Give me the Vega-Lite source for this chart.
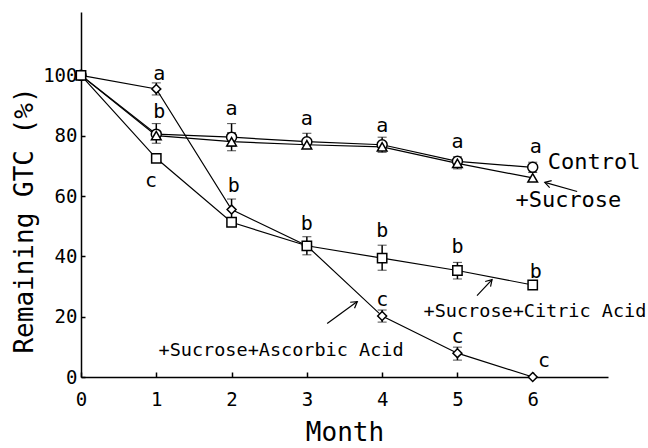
{
  "$schema": "https://vega.github.io/schema/vega-lite/v6.json",
  "width": 527,
  "height": 365,
  "autosize": {"type": "none"},
  "padding": {"left": 81, "top": 12, "right": 40, "bottom": 71},
  "background": "white",
  "config": {
    "view": {"stroke": null},
    "font": "DejaVu Sans Mono",
    "axis": {"labelFont": "DejaVu Sans Mono", "titleFont": "DejaVu Sans Mono", "labelColor": "black", "titleColor": "black", "domainColor": "black", "tickColor": "black", "domainWidth": 1.5, "tickWidth": 1.5, "grid": false, "labelFontSize": 19, "titleFontSize": 26, "titleFontWeight": "normal", "labelFlush": false}
  },
  "datasets": {
    "pts": [
      {"series": "Control", "month": 0, "value": 100},
      {"series": "Control", "month": 1, "value": 80.5, "lo": 77.5, "hi": 84},
      {"series": "Control", "month": 2, "value": 79.5, "lo": 76.5, "hi": 84},
      {"series": "Control", "month": 3, "value": 78, "lo": 76, "hi": 80.8},
      {"series": "Control", "month": 4, "value": 77, "lo": 74.5, "hi": 79.5},
      {"series": "Control", "month": 5, "value": 71.5, "lo": 69, "hi": 73},
      {"series": "Control", "month": 6, "value": 69.5, "lo": 67.8, "hi": 71.2},
      {"series": "+Sucrose", "month": 0, "value": 100},
      {"series": "+Sucrose", "month": 1, "value": 80},
      {"series": "+Sucrose", "month": 2, "value": 78, "lo": 75, "hi": 81},
      {"series": "+Sucrose", "month": 3, "value": 77},
      {"series": "+Sucrose", "month": 4, "value": 76.3},
      {"series": "+Sucrose", "month": 5, "value": 70.8},
      {"series": "+Sucrose", "month": 6, "value": 66},
      {"series": "+Sucrose+Ascorbic Acid", "month": 0, "value": 100},
      {"series": "+Sucrose+Ascorbic Acid", "month": 1, "value": 95.5, "lo": 93.5, "hi": 97.5},
      {"series": "+Sucrose+Ascorbic Acid", "month": 2, "value": 55.5, "lo": 52, "hi": 59},
      {"series": "+Sucrose+Ascorbic Acid", "month": 3, "value": 43.5},
      {"series": "+Sucrose+Ascorbic Acid", "month": 4, "value": 20.2, "lo": 18.2, "hi": 22.2},
      {"series": "+Sucrose+Ascorbic Acid", "month": 5, "value": 7.9, "lo": 5.6, "hi": 9.9},
      {"series": "+Sucrose+Ascorbic Acid", "month": 6, "value": 0},
      {"series": "+Sucrose+Citric Acid", "month": 0, "value": 100},
      {"series": "+Sucrose+Citric Acid", "month": 1, "value": 72.5},
      {"series": "+Sucrose+Citric Acid", "month": 2, "value": 51.3},
      {"series": "+Sucrose+Citric Acid", "month": 3, "value": 43.5, "lo": 40.5, "hi": 46.5},
      {"series": "+Sucrose+Citric Acid", "month": 4, "value": 39.4, "lo": 35.4, "hi": 43.7},
      {"series": "+Sucrose+Citric Acid", "month": 5, "value": 35.3, "lo": 32.5, "hi": 38},
      {"series": "+Sucrose+Citric Acid", "month": 6, "value": 30.5}
    ],
    "letters": [
      {"month": 1.04, "value": 98.3, "letter": "a"},
      {"month": 1.04, "value": 85.8, "letter": "b"},
      {"month": 0.93, "value": 62.9, "letter": "c"},
      {"month": 2.0, "value": 86.8, "letter": "a"},
      {"month": 2.03, "value": 61.3, "letter": "b"},
      {"month": 3.0, "value": 83.4, "letter": "a"},
      {"month": 3.0, "value": 48.7, "letter": "b"},
      {"month": 4.0, "value": 81.1, "letter": "a"},
      {"month": 4.0, "value": 46.4, "letter": "b"},
      {"month": 4.0, "value": 23.5, "letter": "c"},
      {"month": 5.0, "value": 75.8, "letter": "a"},
      {"month": 5.0, "value": 41.1, "letter": "b"},
      {"month": 5.0, "value": 11.3, "letter": "c"},
      {"month": 6.04, "value": 74.2, "letter": "a"},
      {"month": 6.04, "value": 32.8, "letter": "b"},
      {"month": 6.15, "value": 3.3, "letter": "c"}
    ],
    "labels": [
      {"month": 6.2, "value": 68.8, "text": "Control", "big": true},
      {"month": 5.77, "value": 56.5, "text": "+Sucrose", "big": true},
      {"month": 4.55, "value": 20.0, "text": "+Sucrose+Citric Acid", "big": false},
      {"month": 1.03, "value": 6.8, "text": "+Sucrose+Ascorbic Acid", "big": false}
    ],
    "arrows": [
      {"arrow": "sucrose", "month": 6.59, "value": 61.5, "month2": 6.16, "value2": 64.5},
      {"arrow": "citric", "month": 5.26, "value": 27.0, "month2": 5.46, "value2": 32.3},
      {"arrow": "ascorbic", "month": 3.27, "value": 17.7, "month2": 3.67, "value2": 25.0}
    ]
  },
  "encoding": {
    "x": {"field": "month", "type": "quantitative", "scale": {"domain": [0, 7], "nice": false, "zero": false},
      "axis": {"title": "Month", "values": [0, 1, 2, 3, 4, 5, 6], "tickSize": -5, "labelPadding": 18, "titlePadding": 10}},
    "y": {"field": "value", "type": "quantitative", "scale": {"domain": [0, 121], "nice": false},
      "axis": {"title": "Remaining GTC (%)", "values": [0, 20, 40, 60, 80, 100], "tickSize": -4, "labelPadding": 8, "titlePadding": 5, "titleY": 208}}
  },
  "layer": [
    {"data": {"name": "pts"}, "mark": {"type": "line", "color": "black", "strokeWidth": 1.2},
      "encoding": {"detail": {"field": "series"}}},
    {"data": {"name": "pts"}, "transform": [{"filter": "isValid(datum.lo)"}],
      "mark": {"type": "errorbar", "color": "black", "ticks": {"size": 9, "strokeWidth": 1.5}, "rule": {"strokeWidth": 1.5}},
      "encoding": {"y": {"field": "lo", "type": "quantitative"}, "y2": {"field": "hi"}}},
    {"data": {"name": "pts"}, "mark": {"type": "point", "filled": false, "fill": "white", "fillOpacity": 1, "stroke": "black", "strokeWidth": 1.5, "opacity": 1},
      "encoding": {
        "shape": {"field": "series", "type": "nominal", "legend": null,
          "scale": {"domain": ["Control", "+Sucrose", "+Sucrose+Citric Acid", "+Sucrose+Ascorbic Acid"], "range": ["circle", "triangle-up", "square", "diamond"]}},
        "size": {"field": "series", "type": "nominal", "legend": null,
          "scale": {"domain": ["Control", "+Sucrose", "+Sucrose+Citric Acid", "+Sucrose+Ascorbic Acid"], "range": [100, 80, 100, 110]}}
      }},
    {"data": {"name": "letters"}, "mark": {"type": "text", "fontSize": 20, "baseline": "alphabetic", "align": "center", "color": "black"},
      "encoding": {"text": {"field": "letter"}}},
    {"data": {"name": "labels"}, "transform": [{"filter": "datum.big"}], "mark": {"type": "text", "fontSize": 22, "baseline": "alphabetic", "align": "left", "color": "black"},
      "encoding": {"text": {"field": "text"}}},
    {"data": {"name": "labels"}, "transform": [{"filter": "!datum.big"}], "mark": {"type": "text", "fontSize": 18.5, "baseline": "alphabetic", "align": "left", "color": "black"},
      "encoding": {"text": {"field": "text"}}},
    {"data": {"name": "arrows"}, "mark": {"type": "rule", "color": "black", "strokeWidth": 1.2},
      "encoding": {"x2": {"field": "month2"}, "y2": {"field": "value2"}}},
    {"data": {"name": "arrows"}, "transform": [{"filter": "datum.arrow == 'sucrose'"}],
      "mark": {"type": "point", "shape": "M -1 -0.6 L 0 0 L -1 0.6", "filled": false, "stroke": "black", "strokeWidth": 1.2, "size": 150, "angle": 195.7, "opacity": 1},
      "encoding": {"x": {"field": "month2", "type": "quantitative"}, "y": {"field": "value2", "type": "quantitative"}}},
    {"data": {"name": "arrows"}, "transform": [{"filter": "datum.arrow == 'citric'"}],
      "mark": {"type": "point", "shape": "M -1 -0.6 L 0 0 L -1 0.6", "filled": false, "stroke": "black", "strokeWidth": 1.2, "size": 150, "angle": 313.2, "opacity": 1},
      "encoding": {"x": {"field": "month2", "type": "quantitative"}, "y": {"field": "value2", "type": "quantitative"}}},
    {"data": {"name": "arrows"}, "transform": [{"filter": "datum.arrow == 'ascorbic'"}],
      "mark": {"type": "point", "shape": "M -1 -0.6 L 0 0 L -1 0.6", "filled": false, "stroke": "black", "strokeWidth": 1.2, "size": 150, "angle": 323.7, "opacity": 1},
      "encoding": {"x": {"field": "month2", "type": "quantitative"}, "y": {"field": "value2", "type": "quantitative"}}}
  ]
}
